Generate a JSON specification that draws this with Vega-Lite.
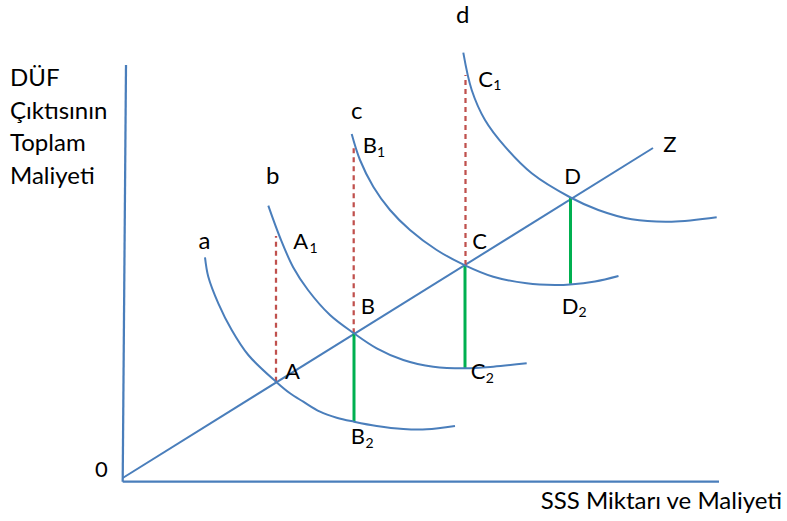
{
  "$schema": "https://vega.github.io/schema/vega-lite/v6.json",
  "width": 787,
  "height": 521,
  "autosize": "none",
  "padding": 0,
  "config": {"view": {"stroke": null}},
  "datasets": {
    "curves": [
      {"curve": "a", "x": 205, "y": 257.3},
      {"curve": "a", "x": 208.3, "y": 276.7},
      {"curve": "a", "x": 218.3, "y": 303.3},
      {"curve": "a", "x": 231.7, "y": 330},
      {"curve": "a", "x": 248.3, "y": 355},
      {"curve": "a", "x": 276, "y": 381.7},
      {"curve": "a", "x": 290, "y": 393.3},
      {"curve": "a", "x": 303.3, "y": 401.7},
      {"curve": "a", "x": 320, "y": 411.7},
      {"curve": "a", "x": 336.7, "y": 417.7},
      {"curve": "a", "x": 354, "y": 421.7},
      {"curve": "a", "x": 376.7, "y": 426},
      {"curve": "a", "x": 403.3, "y": 429},
      {"curve": "a", "x": 426.7, "y": 429.3},
      {"curve": "a", "x": 455, "y": 426},
      {"curve": "b", "x": 268.3, "y": 205.7},
      {"curve": "b", "x": 280, "y": 237.5},
      {"curve": "b", "x": 293.3, "y": 267.5},
      {"curve": "b", "x": 308, "y": 290},
      {"curve": "b", "x": 330, "y": 315},
      {"curve": "b", "x": 354, "y": 333.3},
      {"curve": "b", "x": 376.7, "y": 348.3},
      {"curve": "b", "x": 403.3, "y": 360},
      {"curve": "b", "x": 433.3, "y": 366.7},
      {"curve": "b", "x": 465, "y": 368.3},
      {"curve": "b", "x": 493.3, "y": 366.7},
      {"curve": "b", "x": 526.7, "y": 363.3},
      {"curve": "c", "x": 351.7, "y": 134},
      {"curve": "c", "x": 360, "y": 160},
      {"curve": "c", "x": 373.3, "y": 186.7},
      {"curve": "c", "x": 390, "y": 210},
      {"curve": "c", "x": 410, "y": 230},
      {"curve": "c", "x": 436.7, "y": 250},
      {"curve": "c", "x": 465, "y": 265.3},
      {"curve": "c", "x": 493.3, "y": 276.7},
      {"curve": "c", "x": 526.7, "y": 283.3},
      {"curve": "c", "x": 555, "y": 285},
      {"curve": "c", "x": 570, "y": 284.5},
      {"curve": "c", "x": 595, "y": 281.5},
      {"curve": "c", "x": 618.5, "y": 276},
      {"curve": "d", "x": 463.3, "y": 52.7},
      {"curve": "d", "x": 471.7, "y": 90},
      {"curve": "d", "x": 485, "y": 120},
      {"curve": "d", "x": 505, "y": 146.7},
      {"curve": "d", "x": 531.7, "y": 173.3},
      {"curve": "d", "x": 570.5, "y": 197.5},
      {"curve": "d", "x": 598.3, "y": 210},
      {"curve": "d", "x": 631.7, "y": 219.3},
      {"curve": "d", "x": 671.7, "y": 221.7},
      {"curve": "d", "x": 716.7, "y": 217.3}
    ],
    "segments": [
      {"kind": "axis", "x": 126, "y": 65, "x2": 122.7, "y2": 481.7},
      {"kind": "axis", "x": 122.7, "y": 481.7, "x2": 719, "y2": 481.7},
      {"kind": "ray", "x": 122.7, "y": 478, "x2": 653, "y2": 148},
      {"kind": "dash", "x": 276, "y": 381.7, "x2": 276, "y2": 236},
      {"kind": "dash", "x": 353.7, "y": 333.3, "x2": 353.7, "y2": 146},
      {"kind": "dash", "x": 465.5, "y": 265, "x2": 465.5, "y2": 75},
      {"kind": "green", "x": 354, "y": 333.3, "x2": 354, "y2": 421.7},
      {"kind": "green", "x": 465, "y": 265.3, "x2": 465, "y2": 368.3},
      {"kind": "green", "x": 570.5, "y": 197.7, "x2": 570.5, "y2": 283.8}
    ],
    "labels": [
      {"t": "DÜF", "x": 10, "y": 86, "role": "title"},
      {"t": "Çıktısının", "x": 10, "y": 118.5, "role": "title"},
      {"t": "Toplam", "x": 10, "y": 151, "role": "title"},
      {"t": "Maliyeti", "x": 10, "y": 183.5, "role": "title"},
      {"t": "SSS Miktarı ve Maliyeti", "x": 540.7, "y": 509, "role": "title"},
      {"t": "a", "x": 198.5, "y": 249, "role": "title"},
      {"t": "b", "x": 266, "y": 184, "role": "title"},
      {"t": "c", "x": 351, "y": 119, "role": "title"},
      {"t": "d", "x": 456, "y": 23.3, "role": "title"},
      {"t": "0", "x": 95, "y": 476.7, "role": "main"},
      {"t": "A", "x": 293.3, "y": 249.3, "role": "main"},
      {"t": "1", "x": 309.5, "y": 253, "role": "sub"},
      {"t": "B", "x": 362.7, "y": 153.3, "role": "main"},
      {"t": "1", "x": 377, "y": 156.5, "role": "sub"},
      {"t": "C", "x": 478.3, "y": 86.7, "role": "main"},
      {"t": "1", "x": 493.3, "y": 90, "role": "sub"},
      {"t": "Z", "x": 663.3, "y": 151.7, "role": "main"},
      {"t": "D", "x": 564.3, "y": 184, "role": "main"},
      {"t": "C", "x": 472.3, "y": 249, "role": "main"},
      {"t": "B", "x": 360.7, "y": 314, "role": "main"},
      {"t": "A", "x": 285, "y": 379, "role": "main"},
      {"t": "B", "x": 350.7, "y": 444.3, "role": "main"},
      {"t": "2", "x": 365.5, "y": 448.3, "role": "sub"},
      {"t": "C", "x": 470.7, "y": 379, "role": "main"},
      {"t": "2", "x": 485.7, "y": 383.3, "role": "sub"},
      {"t": "D", "x": 561.7, "y": 314, "role": "main"},
      {"t": "2", "x": 578.5, "y": 316.7, "role": "sub"}
    ]
  },
  "layer": [
    {
      "data": {"name": "segments"},
      "transform": [{"filter": "datum.kind === 'axis'"}],
      "mark": {"type": "rule", "strokeCap": "butt", "color": "#4A7EBB", "strokeWidth": 2.25},
      "encoding": {
        "x": {"field": "x", "type": "quantitative", "scale": {"domain": [0, 787], "nice": false, "zero": false}, "axis": null},
        "y": {"field": "y", "type": "quantitative", "scale": {"domain": [0, 521], "nice": false, "zero": false, "reverse": true}, "axis": null},
        "x2": {"field": "x2"},
        "y2": {"field": "y2"}
      }
    },
    {
      "data": {"name": "segments"},
      "transform": [{"filter": "datum.kind === 'ray'"}],
      "mark": {"type": "rule", "strokeCap": "butt", "color": "#4A7EBB", "strokeWidth": 2},
      "encoding": {
        "x": {"field": "x", "type": "quantitative"},
        "y": {"field": "y", "type": "quantitative"},
        "x2": {"field": "x2"},
        "y2": {"field": "y2"}
      }
    },
    {
      "data": {"name": "segments"},
      "transform": [{"filter": "datum.kind === 'dash'"}],
      "mark": {"type": "rule", "strokeCap": "butt", "color": "#C0504D", "strokeWidth": 2.25, "strokeDash": [5, 4]},
      "encoding": {
        "x": {"field": "x", "type": "quantitative"},
        "y": {"field": "y", "type": "quantitative"},
        "x2": {"field": "x2"},
        "y2": {"field": "y2"}
      }
    },
    {
      "data": {"name": "segments"},
      "transform": [{"filter": "datum.kind === 'green'"}],
      "mark": {"type": "rule", "strokeCap": "butt", "color": "#00B050", "strokeWidth": 3},
      "encoding": {
        "x": {"field": "x", "type": "quantitative"},
        "y": {"field": "y", "type": "quantitative"},
        "x2": {"field": "x2"},
        "y2": {"field": "y2"}
      }
    },
    {
      "data": {"name": "curves"},
      "mark": {"type": "line", "interpolate": "catmull-rom", "color": "#4A7EBB", "strokeWidth": 2},
      "encoding": {
        "x": {"field": "x", "type": "quantitative"},
        "y": {"field": "y", "type": "quantitative"},
        "detail": {"field": "curve", "type": "nominal"},
        "order": {"field": "x", "type": "quantitative"}
      }
    },
    {
      "data": {"name": "labels"},
      "transform": [{"filter": "datum.role === 'title'"}],
      "mark": {"type": "text", "align": "left", "baseline": "alphabetic", "font": "Lato", "fontSize": 24, "color": "#000000"},
      "encoding": {
        "x": {"field": "x", "type": "quantitative"},
        "y": {"field": "y", "type": "quantitative"},
        "text": {"field": "t"}
      }
    },
    {
      "data": {"name": "labels"},
      "transform": [{"filter": "datum.role === 'main'"}],
      "mark": {"type": "text", "align": "left", "baseline": "alphabetic", "font": "Lato", "fontSize": 22, "color": "#000000"},
      "encoding": {
        "x": {"field": "x", "type": "quantitative"},
        "y": {"field": "y", "type": "quantitative"},
        "text": {"field": "t"}
      }
    },
    {
      "data": {"name": "labels"},
      "transform": [{"filter": "datum.role === 'sub'"}],
      "mark": {"type": "text", "align": "left", "baseline": "alphabetic", "font": "Lato", "fontSize": 14, "color": "#000000"},
      "encoding": {
        "x": {"field": "x", "type": "quantitative"},
        "y": {"field": "y", "type": "quantitative"},
        "text": {"field": "t"}
      }
    }
  ]
}
